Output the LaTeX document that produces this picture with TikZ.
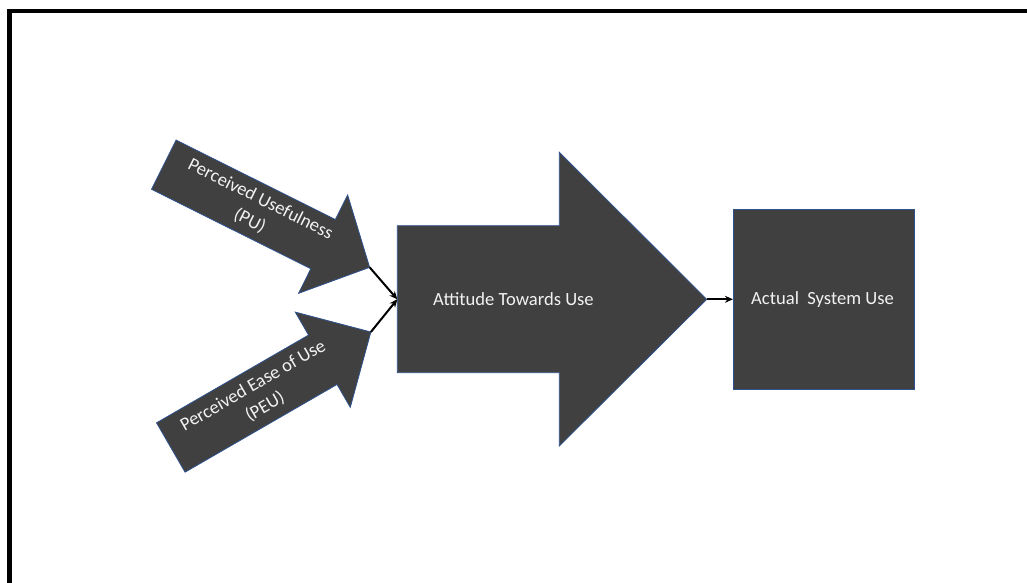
\documentclass[tikz,border=0pt]{standalone}
\usepackage{fontspec}
\setmainfont{Carlito}
\usetikzlibrary{arrows.meta}
\definecolor{shapefill}{HTML}{404040}
\definecolor{shapeline}{HTML}{2F528F}
\definecolor{labeltext}{HTML}{F2F2F2}
\tikzset{
  blockshape/.style={fill=shapefill, draw=shapeline, line width=0.8pt, line join=miter},
  blocklabel/.style={text=labeltext, font=\fontsize{18.6}{24}\selectfont, align=center, inner sep=0pt},
  link/.style={draw=black, line width=2pt, -{Stealth[length=8pt,width=7pt]}},
}
\begin{document}
\begin{tikzpicture}[x=1pt, y=1pt]
  \useasboundingbox (0,0) rectangle (1027,-583);
  % page frame (only top and left edges fall inside the picture)
  \draw[line width=4.5pt] (9.7,-590) -- (9.7,-11) -- (1035,-11);

  % Perceived Usefulness arrow
  \begin{scope}[shift={(163.8,-164.7)}, rotate=-26.5]
    \path[blockshape] (0,27.5) -- (178,27.5) -- (178,55) -- (230,0)
      -- (178,-55) -- (178,-27.5) -- (0,-27.5) -- cycle;
    \coordinate (putip) at (230,0);
    \node[blocklabel, rotate=-26.5] (pu) at (102,0) {Perceived Usefulness\\(PU)};
  \end{scope}

  % Perceived Ease of Use arrow
  \begin{scope}[shift={(170.8,-447.5)}, rotate=30]
    \path[blockshape] (0,28.5) -- (175.5,28.5) -- (175.5,55) -- (231,0)
      -- (175.5,-55) -- (175.5,-28.5) -- (0,-28.5) -- cycle;
    \coordinate (peutip) at (231,0);
    \node[blocklabel, rotate=30] (peu) at (102,0) {Perceived Ease of Use\\(PEU)};
  \end{scope}

  % Attitude Towards Use arrow
  \path[blockshape] (397.3,-225.7) -- (559.3,-225.7) -- (559.3,-152.3)
    -- (706.7,-299.3) -- (559.3,-446) -- (559.3,-372.7)
    -- (397.3,-372.7) -- cycle;
  \coordinate (attin) at (397.3,-299.3);
  \coordinate (atttip) at (706.7,-299.3);
  \node[blocklabel, anchor=west] (att) at (433,-299.3) {Attitude Towards Use};

  % Actual System Use box
  \node[blockshape, minimum width=181pt, minimum height=180pt, inner sep=0pt]
    (sys) at (823.8,-299.3) {};
  \node[blocklabel, anchor=west] (syslabel) at (751,-299.3) {Actual\ \ System Use};

  % connectors
  \draw[link] (putip) -- (attin);
  \draw[link] (peutip) -- (attin);
  \draw[link] (atttip) -- (sys.west);
\end{tikzpicture}
\end{document}
